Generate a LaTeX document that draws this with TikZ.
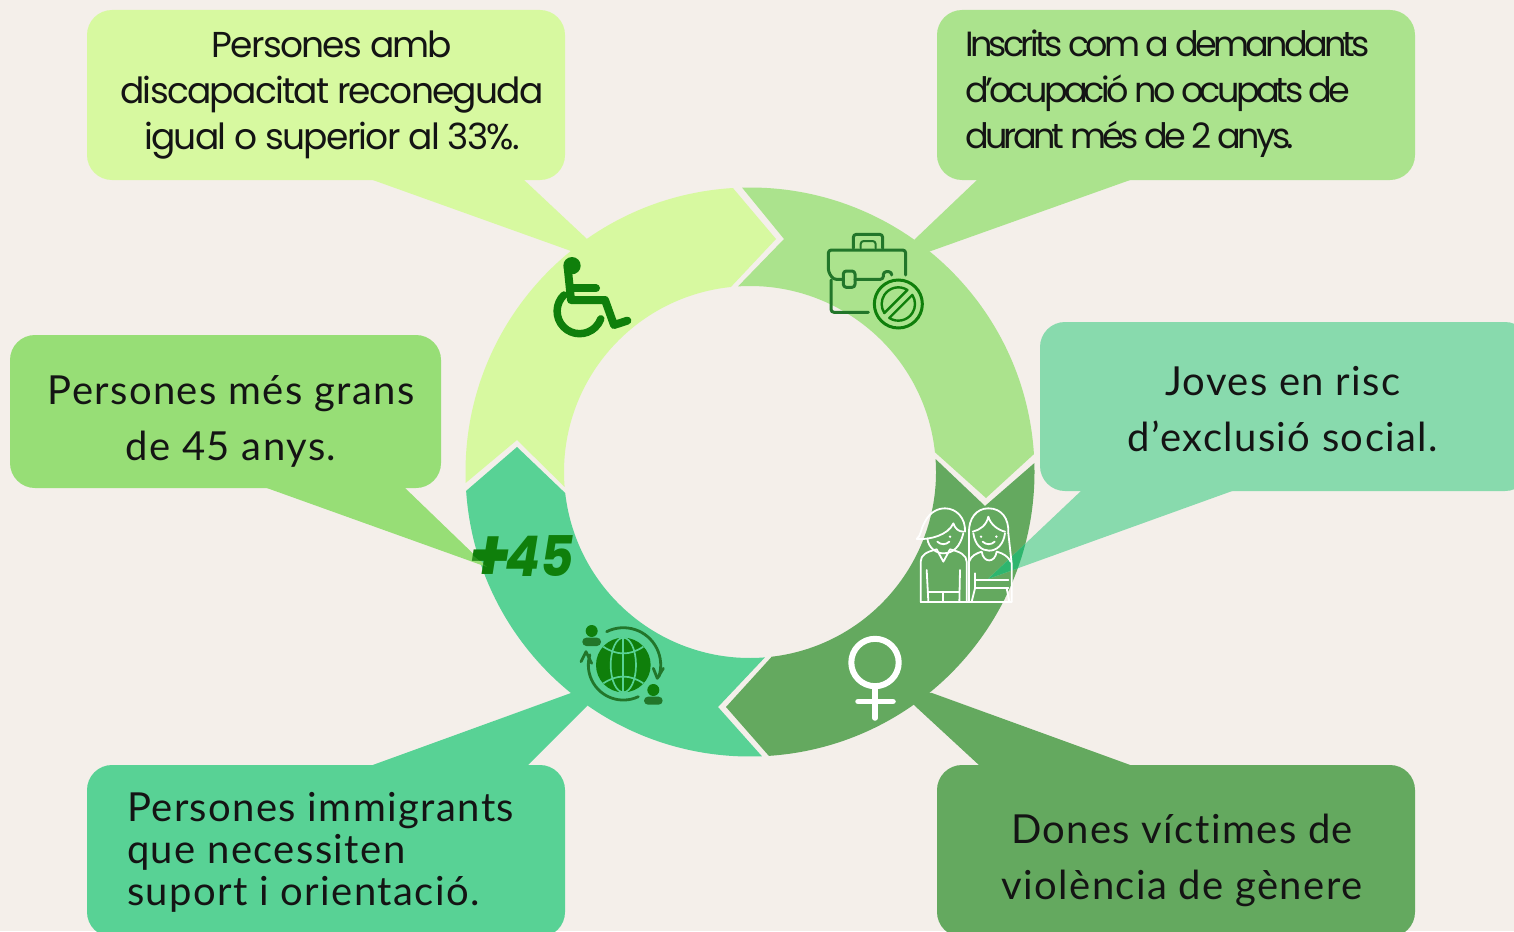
\documentclass[tikz,border=0pt]{standalone}
\usepackage{fontspec}
\usetikzlibrary{calc}
\setmainfont{Lato}
\newfontfamily\fa[LetterSpace=-4.8]{Poppins}
\newfontfamily\fd[LetterSpace=-10.6]{Poppins}
\newfontfamily\fb[LetterSpace=3.5,Ligatures=NoCommon]{Lato}
\newfontfamily\fc{Poppins}
\definecolor{bgc}{HTML}{F4EFEA}
\definecolor{cya}{HTML}{D7F9A0}
\definecolor{cli}{HTML}{ABE38D}
\definecolor{cmi}{HTML}{97DE76}
\definecolor{cte}{HTML}{58D295}
\definecolor{cse}{HTML}{88DAAD}
\definecolor{cda}{HTML}{64A95F}
\definecolor{cov}{HTML}{2EB56E}
\definecolor{ico}{HTML}{0F7F0B}
\definecolor{ice}{HTML}{22762A}
\tikzset{
 x=1pt,y=-1pt,
 boxn/.style={rounded corners=25pt,minimum width=#1,inner sep=0pt,outer sep=0pt},
 txta/.style={inner sep=0pt,align=center,text=black!92,font=\fa\fontsize{36}{46}\selectfont},
 txtb/.style={inner sep=0pt,align=center,text=black!92,font=\fb\fontsize{40}{56}\selectfont},
 wheel/.style={draw=ico,line width=8pt,line cap=round,line join=round},
 brief/.style={draw=ice,line width=3pt,line cap=round,line join=round,rounded corners=3pt},
 venus/.style={draw=white,line width=5.5pt,line cap=round},
 pers/.style={draw=white,line width=1.8pt,line join=round,line cap=round},
}
\begin{document}
\begin{tikzpicture}
\useasboundingbox (0,0) rectangle (1514,931);
\fill[bgc] (0,0) rectangle (1514,931);
\coordinate (c) at (750,472);

% boxes
\node[boxn=478pt,minimum height=170pt,fill=cya] (bya) at (326,95) {};
\node[boxn=478pt,minimum height=170pt,fill=cli] (bli) at (1176,95) {};
\node[boxn=431pt,minimum height=153pt,fill=cmi] (bmi) at (225.5,411.5) {};
\node[boxn=490pt,minimum height=169pt,fill=cse] (bse) at (1285,406.5) {};
\node[boxn=478pt,minimum height=172pt,fill=cte] (bte) at (326,851) {};
\node[boxn=478pt,minimum height=172pt,fill=cda] (bda) at (1176,851) {};

% ring
\fill[cya] (c) ++(93.44:284.5pt) arc[start angle=93.44,end angle=182.2,radius=284.5pt] -- (517,440) -- ($(c)+(184.6:186pt)$) arc[start angle=184.6,end angle=95.9,radius=186pt] -- (776,239) -- cycle;
\fill[cli] (c) ++(91.6:284.5pt) arc[start angle=91.6,end angle=3.6,radius=284.5pt] -- (986,498) -- ($(c)+(6.1:186pt)$) arc[start angle=6.1,end angle=93.7,radius=186pt] -- (784,239) -- cycle;
\fill[cda] (c) ++(1.8:284.5pt) arc[start angle=1.8,end angle=-86.2,radius=284.5pt] -- (726,707) -- ($(c)+(-83.3:186pt)$) arc[start angle=-83.3,end angle=4,radius=186pt] -- (985,506) -- cycle;
\fill[cte] (c) ++(-87.6:284.5pt) arc[start angle=-87.6,end angle=-176.2,radius=284.5pt] -- (517,447) -- ($(c)+(-173.5:186pt)$) arc[start angle=-173.5,end angle=-85.4,radius=186pt] -- (718,707) -- cycle;

% tails
\fill[cya] (370,179) -- (571,251) -- (600,260) -- (587,239) -- (523,179) -- cycle;
\fill[cli] (1133,179) -- (931,251) -- (900,260) -- (915,239) -- (978,179) -- cycle;
\fill[cte] (370,766) -- (571,693) -- (600,690) -- (587,706) -- (527,766) -- cycle;
\fill[cda] (1133,766) -- (932,693) -- (900,690) -- (915,706) -- (980,766) -- cycle;
\fill[cmi] (264,487) -- (487,567) -- (404,487) -- cycle;
\fill[cse] (1235,490) -- (988,579) -- (1082,490) -- cycle;
\begin{scope}
 \clip (c) circle[radius=284.5pt];
 \fill[cov] (1235,490) -- (988,579) -- (1082,490) -- cycle;
\end{scope}

% texts
\node[txta] (t1) at (332,95) {Persones amb\hspace{14pt}\\discapacitat reconeguda\\igual o superior al 33\%.};
\node[txta,font=\fd\fontsize{35}{46}\selectfont,align=left,anchor=west] (t2) at (965,94) {Inscrits com a demandants\\d’ocupació no ocupats de\\durant més de 2 anys.};
\node[txtb] (t3) at (231,421) {Persones més grans\\de 45 anys.};
\node[txtb,font=\fb\fontsize{40}{42}\selectfont,align=left,anchor=west] (t4) at (127,852) {Persones immigrants\\que necessiten\\suport i orientació.};
\node[txtb] (t5) at (1283,409) {Joves en risc\\d’exclusió social.};
\node[txtb] (t6) at (1182,860) {Dones víctimes de\\violència de gènere};

% wheelchair
\begin{scope}[shift={(460,180)},scale=1/3]
 \fill[ico] (336,257) circle[radius=26pt];
 \path[wheel] (323,262) -- (333,360) -- (435,360) -- (462,435) -- (502,422);
 \path[wheel] (340,325) -- (408,325);
 \path[wheel,line width=7.5pt] (312,345) arc[start angle=134,end angle=340,radius=67.5pt];
\end{scope}

% briefcase
\begin{scope}[shift={(815,225)},scale=1/3]
 \path[brief] (115,70) -- (115,28) -- (203,28) -- (203,70);
 \path[brief,line width=2pt] (137,70) -- (137,48) -- (182,48) -- (182,70);
 \path[brief] (272,150) -- (272,75) -- (40,75) -- (40,140) -- (55,163) -- (85,163);
 \path[brief] (85,138) -- (85,187) -- (120,187) -- (120,138) -- cycle;
 \path[brief] (120,163) -- (205,163) -- (205,140) -- (230,140) -- (230,150);
 \path[brief] (48,165) -- (48,262) -- (160,262);
 \draw[ico,line width=3pt] (250,237) circle[radius=72pt];
 \draw[ico,line width=2.4pt,line join=round] (250,237) ++(57:50pt) arc[start angle=57,end angle=213,radius=50pt] -- cycle;
 \draw[ico,line width=2.4pt,line join=round] (250,237) ++(237:50pt) arc[start angle=237,end angle=393,radius=50pt] -- cycle;
\end{scope}

% venus
\begin{scope}
 \draw[white,line width=6pt] (875,662.5) circle[radius=23.7pt];
 \path[venus] (875,689) -- (875,718);
 \path[venus] (858,701.5) -- (893,701.5);
\end{scope}

% people
\begin{scope}[shift={(900,490)},scale=1/3]
 % boy
 \path[pers] (50,147) .. controls (65,135) and (60,120) .. (75,95) .. controls (90,65) and (115,55) .. (135,55) .. controls (170,55) and (197,85) .. (195,125);
 \path[pers] (50,147) .. controls (90,150) and (145,135) .. (160,100) .. controls (165,115) and (175,125) .. (190,125);
 \path[pers] (82,145) .. controls (85,175) and (110,190) .. (130,190) .. controls (160,190) and (180,170) .. (190,130);
 \path[pers] (62,335) -- (62,215) .. controls (62,195) and (80,185) .. (110,178) -- (130,215) -- (150,178) .. controls (180,185) and (200,195) .. (200,215) -- (200,335);
 \path[pers] (80,240) -- (85,335);
 \path[pers] (180,240) -- (178,335);
 \path[pers] (85,307) -- (178,307);
 \path[pers] (130,307) -- (130,335);
 \path[pers] (112,155) .. controls (122,165) and (138,165) .. (148,155);
 \fill[white] (150,140) circle[radius=4pt];
 \path[pers] (62,335) -- (335,335);
 % girl
 \path[pers] (207,130) .. controls (205,85) and (230,55) .. (265,55) .. controls (305,55) and (327,85) .. (325,130);
 \path[pers] (218,125) .. controls (240,120) and (260,105) .. (265,80) .. controls (272,105) and (295,120) .. (315,125);
 \path[pers] (220,130) .. controls (225,165) and (245,182) .. (267,182) .. controls (290,182) and (310,165) .. (315,130);
 \path[pers] (207,130) -- (207,335);
 \path[pers] (325,130) -- (335,220) -- (335,335);
 \path[pers] (207,215) .. controls (215,195) and (230,190) .. (245,185) .. controls (250,220) and (285,220) .. (290,185) .. controls (310,190) and (325,200) .. (332,215);
 \path[pers] (225,270) -- (325,270);
 \path[pers] (225,295) -- (325,295);
 \path[pers] (225,295) -- (215,335);
 \path[pers] (320,295) -- (328,335);
 \path[pers] (225,250) -- (225,295);
 \path[pers] (248,155) .. controls (258,165) and (274,165) .. (284,155);
 \fill[white] (243,140) circle[radius=4pt];
 \fill[white] (289,140) circle[radius=4pt];
\end{scope}

% globe
\begin{scope}[shift={(570,615)},scale=1/3]
 \fill[ico] (160,150) circle[radius=82pt];
 \draw[cte,line width=1.7pt] (160,150) circle[x radius=38pt,y radius=82pt];
 \draw[cte,line width=1.7pt] (160,68) -- (160,232);
 \draw[cte,line width=1.7pt] (100,95) .. controls (140,122) and (180,122) .. (220,95);
 \draw[cte,line width=1.7pt] (100,205) .. controls (140,178) and (180,178) .. (220,205);
 \fill[ico] (65,48) circle[radius=18pt];
 \fill[ice,rounded corners=4pt] (37,93) rectangle (93,68);
 \fill[ico] (250,225) circle[radius=18pt];
 \fill[ice,rounded corners=4pt] (222,269) rectangle (278,245);
 \draw[ice,line width=2.8pt,line cap=round] (110,50) arc[start angle=116.6,end angle=-18,radius=112pt];
 \draw[ice,line width=2.8pt,line cap=round,line join=round] (250,160) -- (262,190) -- (280,160);
 \draw[ice,line width=2.8pt,line cap=round] (205,245) arc[start angle=-64.6,end angle=-197,radius=105pt];
 \draw[ice,line width=2.8pt,line cap=round,line join=round] (33,140) -- (48,110) -- (65,145);
\end{scope}

% +45
\node[inner sep=0pt,text=ico,xscale=.92,font=\fc\bfseries\itshape\fontsize{56}{56}\selectfont] (t7) at (521,559) {\raisebox{-5pt}{\fontsize{74}{74}\selectfont +}\kern-6pt 45};
\fill[cmi,opacity=.2] (470,553) -- (487,567) -- (470,561) -- cycle;
\end{tikzpicture}
\end{document}
